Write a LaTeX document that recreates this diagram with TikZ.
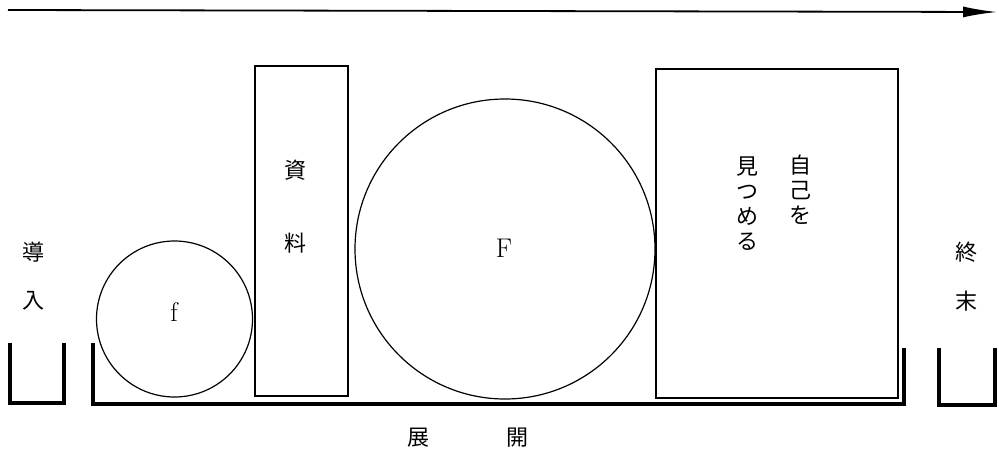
\documentclass[tikz,border=0pt]{standalone}
\usepackage{fontspec}
\newfontfamily\cjk{Noto Sans CJK JP}
\usetikzlibrary{arrows.meta}
\begin{document}
\begin{tikzpicture}[x=1pt,y=-1pt,
  thin line/.style={draw=black,line width=1.2pt},
  bracket/.style={draw=black,line width=3.6pt,line cap=butt,line join=miter},
  jp/.style={font=\cjk\fontsize{22}{25}\selectfont,inner sep=0pt,align=center},
  lat/.style={font=\fontsize{27}{28}\selectfont,inner sep=0pt}]
\useasboundingbox (0,0) rectangle (999,453);
% time arrow
\coordinate (tA) at (8,10);
\coordinate (tB) at (997,12);
\draw[line width=1.8pt,-{Latex[length=34pt,width=11pt]}] (tA) -- (tB);
% brackets
\draw[bracket] (10,343) -- (10,403) -- (64,403) -- (64,343);
\draw[bracket] (93,343) -- (93,404) -- (904,404) -- (904,348);
\draw[bracket] (939,348) -- (939,405) -- (995,405) -- (995,348);
% shapes
\node[thin line,circle,minimum size=156pt,inner sep=0pt] (fc) at (174.5,319) {};
\node[thin line,rectangle,minimum width=93pt,minimum height=330pt,inner sep=0pt] (src) at (301.5,231) {};
\node[thin line,circle,minimum size=300pt,inner sep=0pt] (Fc) at (505,249) {};
\node[thin line,rectangle,minimum width=242pt,minimum height=329pt,inner sep=0pt] (self) at (777,233.5) {};
% labels
\node[lat] (fl) at (174,312) {f};
\node[lat] (Fl) at (504,248) {F};
\node[jp] (s1) at (295,170) {資};
\node[jp] (s2) at (295,243) {料};
\node[jp] (d1) at (33,252) {導};
\node[jp] (d2) at (33,301) {入};
\node[jp] (e1) at (966,252) {終};
\node[jp] (e2) at (966,301) {末};
\node[jp] (m1) at (418,438) {展};
\node[jp] (m2) at (517,438) {開};
\node[jp,anchor=north] (c1) at (800,155) {自\\己\\を};
\node[jp,anchor=north] (c2) at (747,157) {見\\つ\\め\\る};
\end{tikzpicture}
\end{document}
